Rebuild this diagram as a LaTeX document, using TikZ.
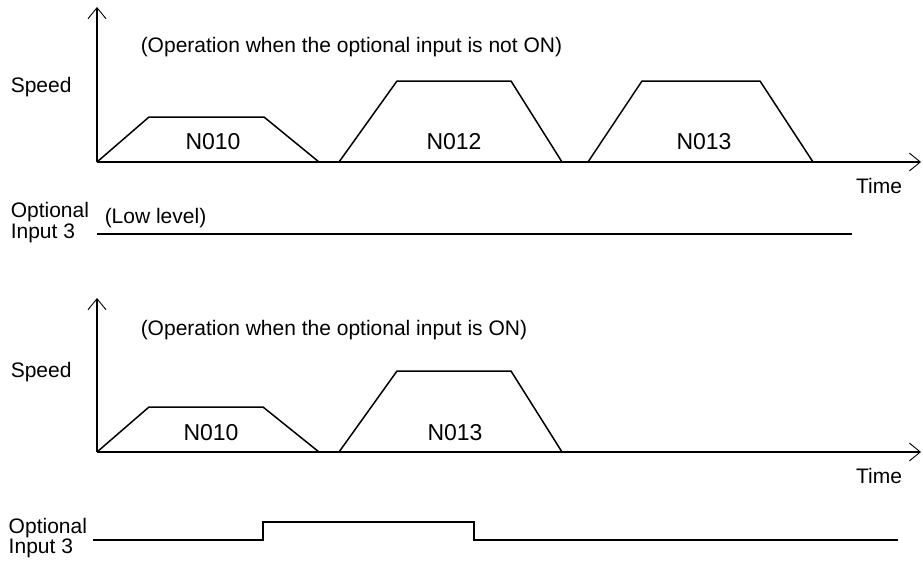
\documentclass[tikz,border=0pt]{standalone}
\usepackage{fontspec}
\setmainfont{Liberation Sans}
\usetikzlibrary{arrows.meta}
\begin{document}
\begin{tikzpicture}[x=1pt,y=-1pt,
  line width=1.5pt,
  lbl/.style={inner sep=0pt,font=\fontsize{21}{23}\selectfont},
  blk/.style={inner sep=0pt,font=\fontsize{23}{25}\selectfont},
  axisline/.style={line width=1.5pt,-{Straight Barb[length=11pt,width=18pt,line width=0.9pt]}},
  sig/.style={line width=1.7pt}]
\useasboundingbox (0,0) rectangle (923,562);
% ---------- top chart ----------
\coordinate (O1) at (97,162);
\coordinate (Y1) at (97,7);
\coordinate (X1) at (921,162);
\draw[axisline] (O1) -- (Y1);
\draw[axisline] (O1) -- (X1);
\node[lbl,anchor=west] (cap1) at (140,47) {(Operation when the optional input is not ON)};
\node[lbl,anchor=west] (sp1) at (10,87) {Speed};
\node[lbl] (tm1) at (879,186) {Time};
\draw (O1) -- (149,117) -- (264,117) -- (319,162);
\draw (339,162) -- (397,81) -- (511,81) -- (562,162);
\draw (588,162) -- (642,81) -- (760,81) -- (813,162);
\node[blk] (n1) at (213,142) {N010};
\node[blk] (n2) at (454,142) {N012};
\node[blk] (n3) at (704,142) {N013};
\node[lbl,anchor=west] (op1) at (10,212) {Optional};
\node[lbl,anchor=west] (in1) at (10,233) {Input 3};
\node[lbl,anchor=west] (ll) at (104,218) {(Low level)};
\coordinate (L1a) at (97,234);
\coordinate (L1b) at (852,234);
\draw[line width=1.3pt] (L1a) -- (L1b);
% ---------- bottom chart ----------
\coordinate (O2) at (97,452);
\coordinate (Y2) at (97,298);
\coordinate (X2) at (921,452);
\draw[axisline] (O2) -- (Y2);
\draw[axisline] (O2) -- (X2);
\node[lbl,anchor=west] (cap2) at (140,330) {(Operation when the optional input is ON)};
\node[lbl,anchor=west] (sp2) at (10,372) {Speed};
\node[lbl] (tm2) at (879,476) {Time};
\draw (O2) -- (149,407) -- (263,407) -- (319,452);
\draw (339,452) -- (397,371) -- (511,371) -- (562,452);
\node[blk] (n4) at (211,433) {N010};
\node[blk] (n5) at (455,433) {N013};
\node[lbl,anchor=west] (op2) at (8,528) {Optional};
\node[lbl,anchor=west] (in2) at (8,548) {Input 3};
\coordinate (S0) at (93,540);
\coordinate (S1) at (263,540);
\coordinate (S2) at (263,522);
\coordinate (S3) at (474,522);
\coordinate (S4) at (474,540);
\coordinate (S5) at (898,540);
\draw[sig] (S0) -- (S1) -- (S2) -- (S3) -- (S4) -- (S5);
\end{tikzpicture}
\end{document}
